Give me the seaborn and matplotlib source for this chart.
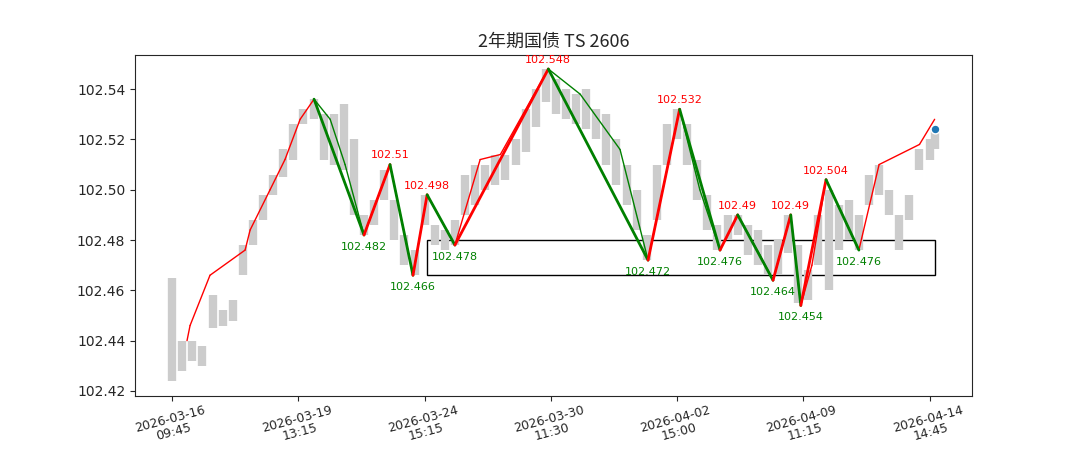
import numpy as np
import pandas as pd
import seaborn as sns
import matplotlib
matplotlib.use("Agg")
import matplotlib.pyplot as plt
from matplotlib.patches import Rectangle

sns.set_style("ticks")
plt.rcParams['font.family'] = ['DejaVu Sans', 'Noto Sans CJK SC']

title = "2年期国债 TS 2606"
tick_pos = [0, 50, 100, 150, 200, 250, 300]
tick_labels = ["2026-03-16\n09:45", "2026-03-19\n13:15", "2026-03-24\n15:15", "2026-03-30\n11:30",
               "2026-04-02\n15:00", "2026-04-09\n11:15", "2026-04-14\n14:45"]

bar_idx = list(range(0, 304, 4)) + [302]
bar_low = [102.424,102.428,102.432,102.430,102.445,102.446,102.448,102.466,102.478,102.488,102.498,102.505,
           102.512,102.526,102.528,102.512,102.510,102.508,102.490,102.482,102.486,102.496,102.480,102.470,
           102.466,102.486,102.478,102.476,102.478,102.490,102.494,102.500,102.502,102.504,102.510,102.515,
           102.525,102.535,102.530,102.528,102.526,102.524,102.520,102.510,102.502,102.494,102.484,102.472,
           102.488,102.510,102.520,102.510,102.496,102.484,102.476,102.480,102.482,102.474,102.470,102.466,
           102.466,102.475,102.455,102.456,102.470,102.460,102.476,102.480,102.476,102.494,102.498,102.490,
           102.476,102.488,102.508,102.512,102.516]
bar_high = [102.465,102.440,102.440,102.438,102.458,102.452,102.456,102.478,102.488,102.498,102.506,102.516,
            102.526,102.532,102.536,102.530,102.530,102.534,102.520,102.490,102.496,102.508,102.496,102.482,
            102.476,102.498,102.486,102.484,102.488,102.506,102.510,102.510,102.514,102.514,102.520,102.532,
            102.540,102.548,102.544,102.540,102.538,102.540,102.532,102.530,102.520,102.510,102.500,102.482,
            102.510,102.526,102.532,102.526,102.512,102.498,102.486,102.490,102.490,102.486,102.484,102.478,
            102.480,102.490,102.478,102.468,102.490,102.500,102.494,102.496,102.490,102.506,102.510,102.500,
            102.490,102.498,102.516,102.520,102.524]

thin_idx = [5.9,7.1,15,28.9,30.9,38.8,44.7,50.7,56.2,62.6,68.5,76,86.3,95.4,101,112,122,130,149,161.6,
            177.4,188.5,201,209,217,224,232.8,238,245,249,253.4,259,272,280,296,302]
thin_val = [102.440,102.446,102.466,102.476,102.484,102.500,102.512,102.528,102.536,102.528,102.510,102.482,
            102.510,102.466,102.498,102.478,102.512,102.514,102.548,102.538,102.516,102.472,102.532,102.500,
            102.476,102.490,102.474,102.464,102.490,102.454,102.470,102.504,102.476,102.510,102.518,102.528]

piv_idx = [56.2,76,86.3,95.4,101,112,149,188.5,201,217,224,238,245,249,259,272]
piv_val = [102.536,102.482,102.510,102.466,102.498,102.478,102.548,102.472,102.532,102.476,102.490,102.464,
           102.490,102.454,102.504,102.476]

box = (101, 302, 102.466, 102.480)
last = (302, 102.524)

fig, ax = plt.subplots(figsize=(10.8, 4.5), dpi=100)
fig.subplots_adjust(left=0.125, right=0.9, top=0.878, bottom=0.12)

bars = pd.DataFrame({"i": bar_idx, "lo": bar_low, "hi": bar_high})
ax.vlines(bars["i"], bars["lo"], bars["hi"], color="#cccccc", lw=6)

for k in range(len(thin_idx) - 1):
    c = "red" if thin_val[k+1] >= thin_val[k] else "green"
    ax.plot(thin_idx[k:k+2], thin_val[k:k+2], color=c, lw=1)

for k in range(len(piv_idx) - 1):
    c = "red" if piv_val[k+1] > piv_val[k] else "green"
    ax.plot(piv_idx[k:k+2], piv_val[k:k+2], color=c, lw=2)

for k in range(1, len(piv_idx)):
    v = piv_val[k]
    hi = v > piv_val[k-1]
    lbl = f"{v:g}"
    if hi:
        ax.annotate(lbl, (piv_idx[k], v), xytext=(0, 3), textcoords="offset points",
                    ha="center", va="bottom", color="red", fontsize=8)
    else:
        ax.annotate(lbl, (piv_idx[k], v), xytext=(0, -5), textcoords="offset points",
                    ha="center", va="top", color="green", fontsize=8)

ax.add_patch(Rectangle((box[0], box[2]), box[1]-box[0], box[3]-box[2], fill=False, ec="black", lw=1))
ax.scatter([last[0]], [last[1]], s=40, color="#1f77b4", edgecolors="white", zorder=5)

ax.set_xlim(-14.7, 316.8)
ax.set_ylim(102.418, 102.5536)
ax.set_yticks([102.42, 102.44, 102.46, 102.48, 102.50, 102.52, 102.54])
ax.set_yticklabels([f"{v:.2f}" for v in [102.42, 102.44, 102.46, 102.48, 102.50, 102.52, 102.54]])
ax.set_xticks(tick_pos)
ax.set_xticklabels(tick_labels, rotation=15, fontsize=9, linespacing=1.0)
ax.tick_params(axis="x", pad=2)
ax.set_title(title, fontsize=13, family=['Noto Sans CJK SC', 'DejaVu Sans'])
fig.savefig("out.png")
